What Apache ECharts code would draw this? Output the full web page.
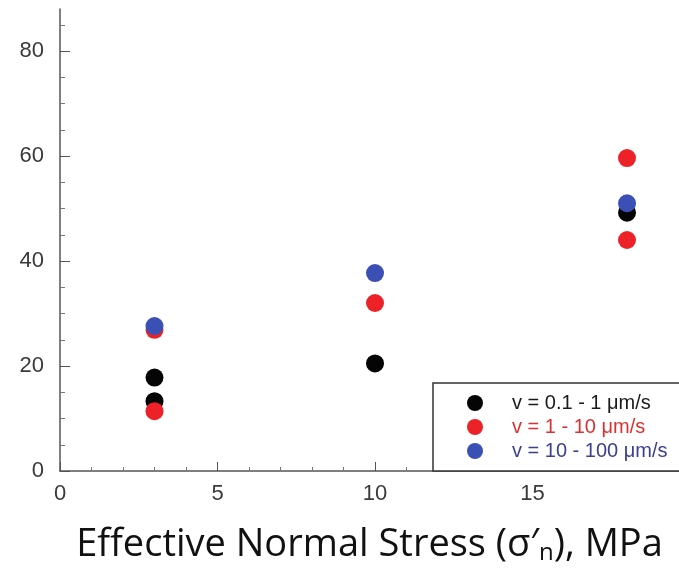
<!DOCTYPE html>
<html>
<head>
<meta charset="utf-8">
<script src="https://cdn.jsdelivr.net/npm/echarts@6/dist/echarts.min.js"></script>
<style>
  html, body { margin: 0; padding: 0; background: #fff; }
  #chart { width: 679px; height: 574px; }
</style>
</head>
<body>
<div id="chart"></div>
<script>
// data (x = effective normal stress, y = value)
const seriesNames = ['v = 0.1 - 1 μm/s', 'v = 1 - 10 μm/s', 'v = 10 - 100 μm/s'];
const slowPoints = [[3, 17.8], [3, 13.3], [10, 20.5], [18, 49.2]];
const midPoints = [[3, 26.9], [3, 11.4], [10, 32.0], [18, 59.6], [18, 44.0]];
const fastPoints = [[3, 27.6], [10, 37.7], [18, 51.0]];

const xLabels = [0, 5, 10, 15];
const xMinorTicks = [1, 2, 3, 4, 6, 7, 8, 9, 11, 12, 13, 14, 16, 17, 18, 19];
const yLabels = [0, 20, 40, 60, 80];
const yMinorTicks = [5, 10, 15, 25, 30, 35, 45, 50, 55, 65, 70, 75, 85];

const dotColors = ['#050505', '#ec2228', '#3a50b4'];
const legendTextColors = ['#1a1a1a', '#dd3030', '#3b4090'];

const X_MAX = 19.65;
const Y_MAX = 88;

const chart = echarts.init(document.getElementById('chart'));

const labelStyle = {
  color: '#3a3a3a',
  fontSize: 22,
  fontFamily: 'Liberation Sans, Arial, sans-serif',
};

const option = {
  backgroundColor: '#fff',
  animation: false,
  grid: { left: 60, right: 0, top: 9, bottom: 103 },
  legend: {
    orient: 'vertical',
    left: 433,
    top: 383,
    padding: [9, 40, 9, 34],
    itemWidth: 16,
    itemHeight: 16,
    itemGap: 2,
    borderColor: '#333',
    borderWidth: 1.5,
    backgroundColor: '#fff',
    data: seriesNames.map((name, i) => ({
      name,
      icon: 'circle',
      textStyle: { color: legendTextColors[i] },
    })),
    textStyle: {
      fontSize: 20,
      lineHeight: 22,
      fontFamily: 'Liberation Sans, Arial, sans-serif',
      padding: [0, 0, 0, 24],
    },
  },
  xAxis: [
    {
      type: 'value',
      min: 0,
      max: X_MAX,
      splitLine: { show: false },
      axisLine: { onZero: false, lineStyle: { color: '#555', width: 1.5 } },
      axisTick: { inside: true, length: 9, customValues: xLabels, lineStyle: { color: '#555' } },
      axisLabel: { ...labelStyle, margin: 12, customValues: xLabels },
      name: 'Effective Normal Stress (σ′{sub|n}), MPa',
      nameLocation: 'middle',
      nameGap: 54,
      nameTextStyle: {
        fontSize: 38,
        fontFamily: 'Open Sans, sans-serif',
        color: '#111',
        rich: {
          sub: { fontSize: 24, fontFamily: 'Open Sans, sans-serif', color: '#111', verticalAlign: 'bottom', padding: [16, 0, 0, 0] },
        },
      },
    },
    {
      type: 'value',
      min: 0,
      max: X_MAX,
      position: 'bottom',
      splitLine: { show: false },
      axisLine: { show: false },
      axisTick: { inside: true, length: 4, customValues: xMinorTicks, lineStyle: { color: '#777' } },
      axisLabel: { show: false },
    },
  ],
  yAxis: [
    {
      type: 'value',
      min: 0,
      max: Y_MAX,
      splitLine: { show: false },
      axisLine: { show: true, onZero: false, lineStyle: { color: '#555', width: 1.5 } },
      axisTick: { show: true, inside: true, length: 10, customValues: yLabels, lineStyle: { color: '#555' } },
      axisLabel: { ...labelStyle, margin: 16, customValues: yLabels },
    },
    {
      type: 'value',
      min: 0,
      max: Y_MAX,
      position: 'left',
      splitLine: { show: false },
      axisLine: { show: false },
      axisTick: { show: true, inside: true, length: 5, customValues: yMinorTicks, lineStyle: { color: '#777' } },
      axisLabel: { show: false },
    },
  ],
  series: [slowPoints, midPoints, fastPoints].map((data, i) => ({
    name: seriesNames[i],
    type: 'scatter',
    data,
    symbolSize: 18,
    itemStyle: { color: dotColors[i], opacity: 1 },
  })),
};

chart.setOption(option);
</script>
</body>
</html>
